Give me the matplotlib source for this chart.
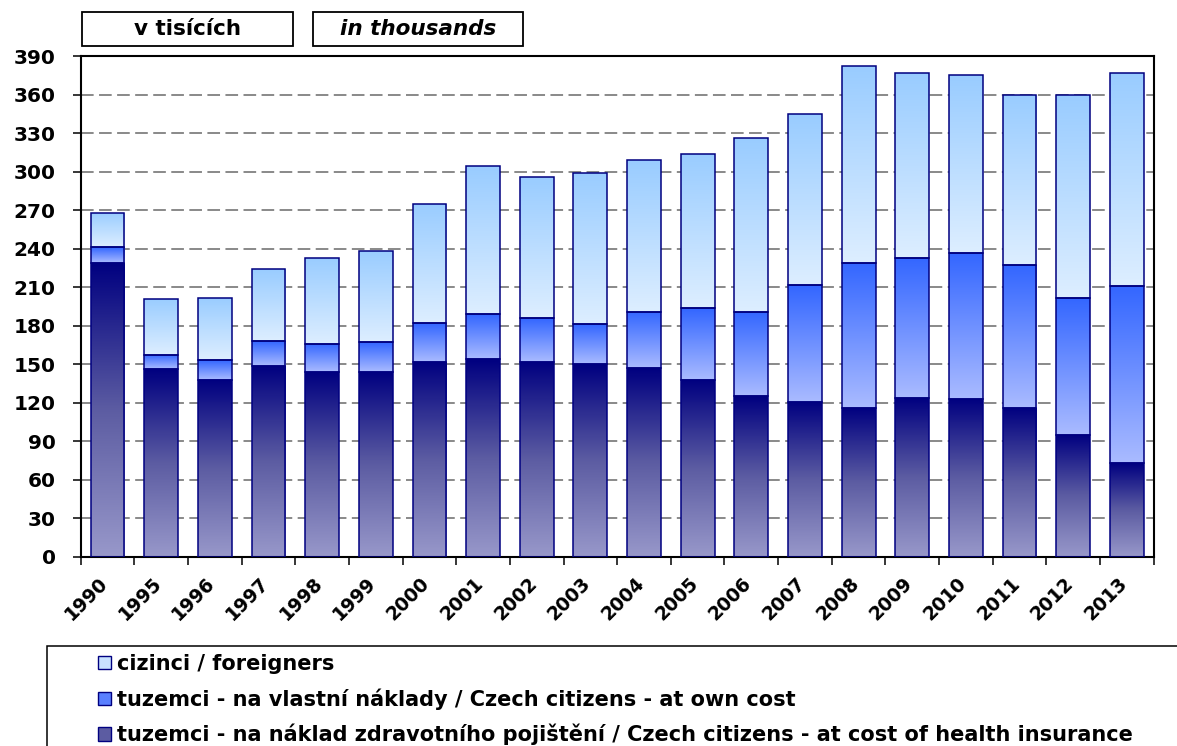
import numpy as np
import matplotlib
matplotlib.use("Agg")
import matplotlib.pyplot as plt
import matplotlib.transforms as mtransforms
from matplotlib.colors import LinearSegmentedColormap
from matplotlib.patches import Patch, Rectangle

# ── Data (v tisicich / in thousands) ─────────────────────────────────────────
roky = ["1990", "1995", "1996", "1997", "1998", "1999", "2000", "2001", "2002",
        "2003", "2004", "2005", "2006", "2007", "2008", "2009", "2010", "2011",
        "2012", "2013"]
pojisteni = [229, 146, 138, 149, 144, 144, 152, 154, 152, 150,
             147, 138, 125, 121, 116, 124, 123, 116, 95, 73]
vlastni = [12, 11, 15, 19, 22, 23, 30, 35, 34, 31,
           44, 56, 66, 91, 113, 109, 114, 111, 107, 138]
cizinci = [27, 44, 49, 56, 67, 71, 93, 115, 110, 118,
           118, 120, 135, 133, 153, 144, 138, 133, 158, 166]
popisky = ["cizinci / foreigners",
           "tuzemci - na vlastní náklady / Czech citizens - at own cost",
           "tuzemci - na náklad zdravotního pojištění / Czech citizens - at cost of health insurance"]

W, H = 1177, 746
NAVY = "#000080"
FONT = "DejaVu Sans"

# gradienty: od spodku segmentu nahoru
cm_poj = LinearSegmentedColormap.from_list("poj", ["#9898CA", "#5C5CA2", "#000080"])
cm_vl = LinearSegmentedColormap.from_list("vl", ["#AABBFF", "#3366FF"])
cm_ciz = LinearSegmentedColormap.from_list("ciz", ["#DDEEFF", "#99CCFF"])

fig = plt.figure(figsize=(W / 100, H / 100), dpi=100)
ax = fig.add_axes([80.7 / W, 1 - 557 / H, (1153.7 - 80.7) / W, (557 - 56) / H])

x = np.arange(len(roky))
grad = np.linspace(0, 1, 256).reshape(-1, 1)
bottom = np.zeros(len(roky))
for vals, cmap in [(pojisteni, cm_poj), (vlastni, cm_vl), (cizinci, cm_ciz)]:
    bars = ax.bar(x, vals, 0.63, bottom=bottom, facecolor="none",
                  edgecolor=NAVY, linewidth=1.1, zorder=3)
    for p in bars:
        x0, y0 = p.get_x(), p.get_y()
        im = ax.imshow(grad, cmap=cmap, origin="lower", aspect="auto",
                       extent=[x0, x0 + p.get_width(), y0, y0 + p.get_height()],
                       zorder=2.5, interpolation="bilinear")
        im.set_clip_path(p)
    bottom = bottom + np.array(vals)

ax.set_xlim(-0.5, len(roky) - 0.5)
ax.set_ylim(0, 390)
ax.set_aspect("auto")

ax.yaxis.grid(True, color="#808080", linewidth=1.3, linestyle=(0, (7, 3)))
ax.set_axisbelow(True)

ax.set_yticks(np.arange(0, 391, 30))
ax.tick_params(axis="y", direction="out", length=6, width=1.1, pad=12)
for lab in ax.get_yticklabels():
    lab.set_fontfamily(FONT)
    lab.set_fontweight("bold")
    lab.set_fontsize(14.5)

ax.set_xticks(np.arange(-0.5, len(roky), 1))
ax.set_xticklabels([])
ax.tick_params(axis="x", which="major", direction="out", length=6, width=1.1)
ax.set_xticks(x, minor=True)
ax.set_xticklabels(roky, minor=True, rotation=45, ha="right",
                   fontfamily=FONT, fontweight="bold", fontsize=13.5)
ax.tick_params(axis="x", which="minor", length=0, pad=12)
posun = mtransforms.ScaledTranslation(4 / 100, 0, fig.dpi_scale_trans)
for lab in ax.xaxis.get_minorticklabels():
    lab.set_transform(lab.get_transform() + posun)

for s in ax.spines.values():
    s.set_linewidth(1.5)
    s.set_color("black")

# ── Ramecky s jednotkami ─────────────────────────────────────────────────────
for (x1, x2), txt, styl in [((82, 293), "v tisících", "normal"),
                            ((313, 523), "in thousands", "italic")]:
    fig.add_artist(Rectangle((x1 / W, 1 - 46 / H), (x2 - x1) / W, 34 / H,
                             transform=fig.transFigure, fill=False,
                             edgecolor="black", linewidth=1.3))
    fig.text((x1 + x2) / 2 / W, 1 - 29 / H, txt, ha="center", va="center",
             fontfamily=FONT, fontweight="bold", fontstyle=styl, fontsize=15.5)

# ── Legenda ──────────────────────────────────────────────────────────────────
fig.add_artist(Rectangle((46.7 / W, -0.1), 1.2, (746 - 646) / H + 0.1,
                         transform=fig.transFigure, fill=False,
                         edgecolor="black", linewidth=1.1, clip_on=False))
handles = [Patch(facecolor="#C8E2FF", edgecolor=NAVY),
           Patch(facecolor="#5A80FF", edgecolor=NAVY),
           Patch(facecolor="#5C5CA2", edgecolor=NAVY)]
fig.legend(handles, popisky, loc="upper left",
           bbox_to_anchor=(97.6 / W, 1 - 654 / H), frameon=False,
           borderpad=0, borderaxespad=0, handlelength=0.62, handleheight=0.62,
           handletextpad=0.3, labelspacing=0.68,
           prop={"family": FONT, "weight": "bold", "size": 15})

fig.savefig("out.png", dpi=100)
plt.close()
